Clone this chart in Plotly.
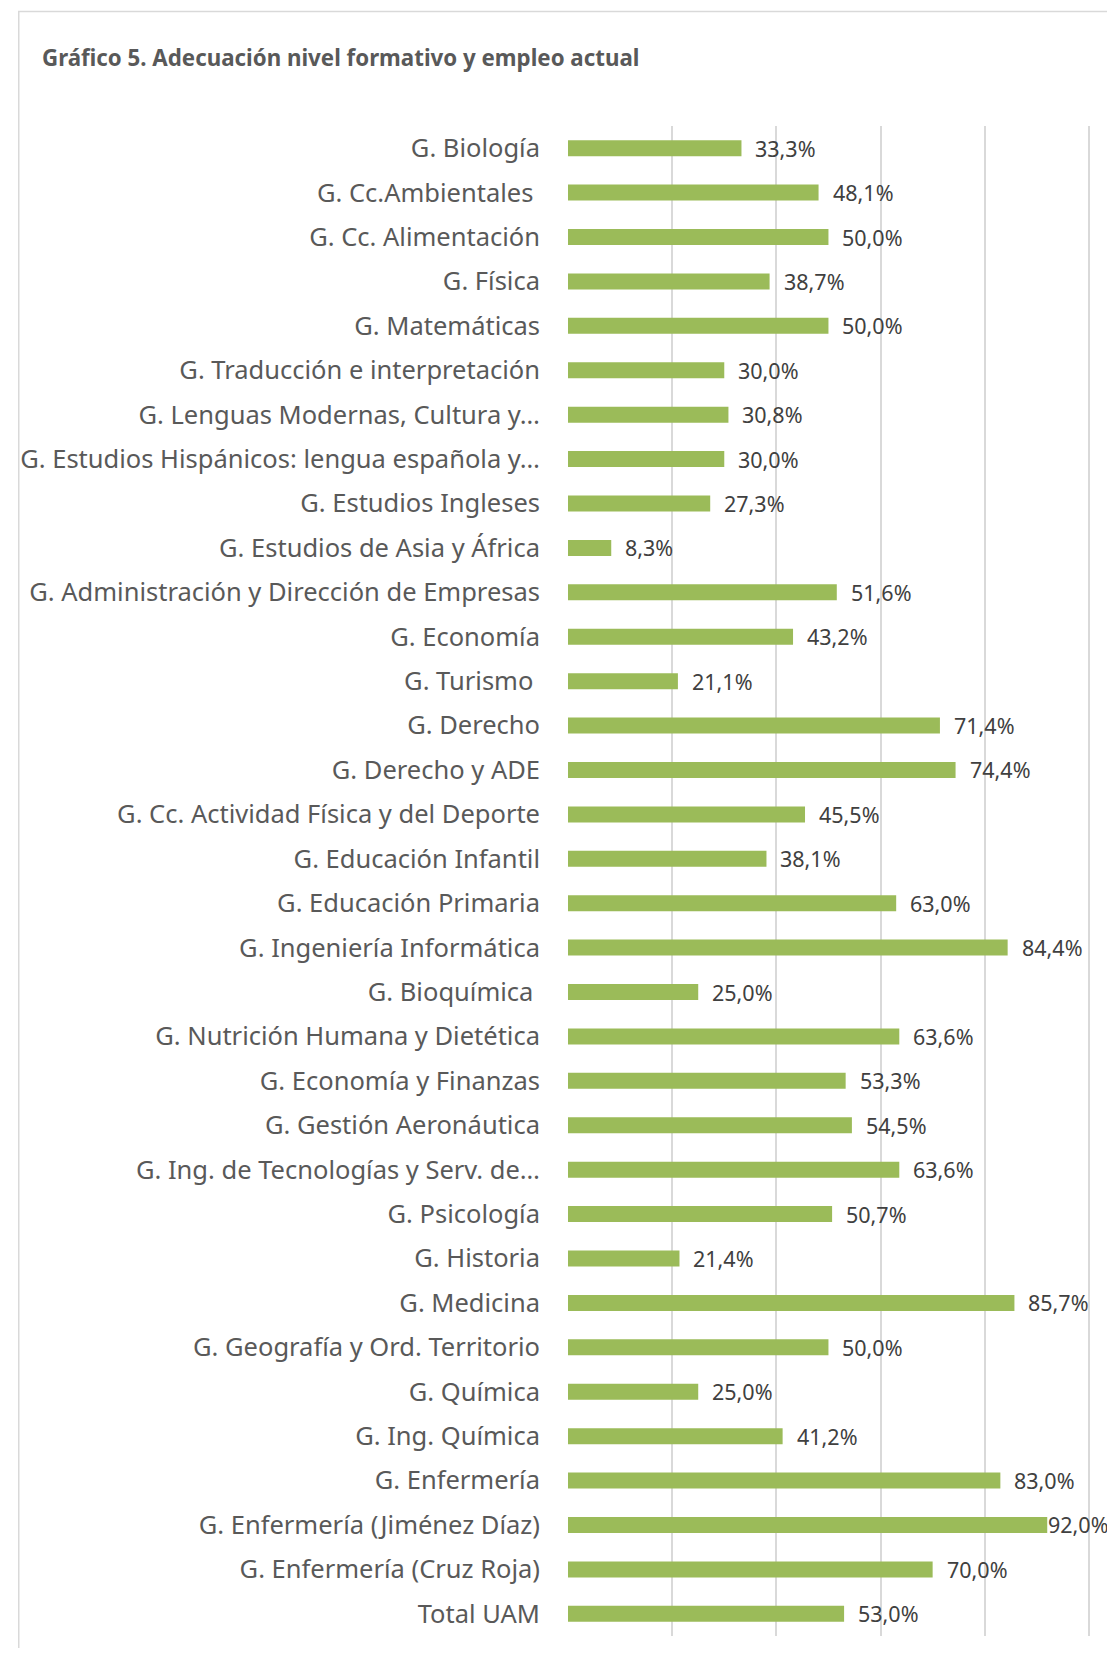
import plotly.graph_objects as go

categories = [
    "G. Biología",
    "G. Cc.Ambientales\u00a0",
    "G. Cc. Alimentación",
    "G. Física",
    "G. Matemáticas",
    "G. Traducción e interpretación",
    "G. Lenguas Modernas, Cultura y…",
    "G. Estudios Hispánicos: lengua española y…",
    "G. Estudios Ingleses",
    "G. Estudios de Asia y África",
    "G. Administración y Dirección de Empresas",
    "G. Economía",
    "G. Turismo\u00a0",
    "G. Derecho",
    "G. Derecho y ADE",
    "G. Cc. Actividad Física y del Deporte",
    "G. Educación Infantil",
    "G. Educación Primaria",
    "G. Ingeniería Informática",
    "G. Bioquímica\u00a0",
    "G. Nutrición Humana y Dietética",
    "G. Economía y Finanzas",
    "G. Gestión Aeronáutica",
    "G. Ing. de Tecnologías y Serv. de…",
    "G. Psicología",
    "G. Historia",
    "G. Medicina",
    "G. Geografía y Ord. Territorio",
    "G. Química",
    "G. Ing. Química",
    "G. Enfermería",
    "G. Enfermería (Jiménez Díaz)",
    "G. Enfermería (Cruz Roja)",
    "Total UAM",
]

values = [
    33.3, 48.1, 50.0, 38.7, 50.0, 30.0, 30.8, 30.0, 27.3, 8.3,
    51.6, 43.2, 21.1, 71.4, 74.4, 45.5, 38.1, 63.0, 84.4, 25.0,
    63.6, 53.3, 54.5, 63.6, 50.7, 21.4, 85.7, 50.0, 25.0, 41.2,
    83.0, 92.0, 70.0, 53.0,
]

x_ticks = [0, 20, 40, 60, 80, 100]

# the page body has an 8px margin, so the figure is laid out 8px smaller
W, H = 1107, 1640
L, R, T, B = 555, 24, 118, 12
plot_w = W - L - R
plot_h = H - T - B


def px_x(p):
    return (p - L) / plot_w


def px_y(p):
    return (H - B - p) / plot_h


labels = [f"{v:.1f}%".replace(".", ",") for v in values]

fig = go.Figure()
fig.add_trace(go.Bar(
    x=values,
    y=categories,
    orientation="h",
    marker=dict(color="#9BBB59", line=dict(width=0)),
    hoverinfo="x+y",
))

for v, c, t in zip(values, categories, labels):
    fig.add_annotation(
        x=v, y=c, text=t, showarrow=False,
        xanchor="left", yanchor="middle",
        xshift=-1 if v > 90 else 12,
        font=dict(family="Noto Sans", size=21.5, color="#404040"),
    )

fig.add_shape(
    type="rect", xref="paper", yref="paper",
    x0=px_x(0.5), x1=px_x(1103.5), y0=px_y(1660), y1=px_y(3.5),
    line=dict(color="#D9D9D9", width=1.5), fillcolor="rgba(0,0,0,0)",
    layer="below",
)

fig.update_layout(
    width=W, height=H,
    margin=dict(l=L, r=R, t=T, b=B),
    plot_bgcolor="white",
    paper_bgcolor="white",
    bargap=0.64,
    showlegend=False,
    title=dict(
        text="<b>Gráfico 5. Adecuación nivel formativo y empleo actual</b>",
        x=34 / W, xref="container", xanchor="left",
        y=1 - 50 / H, yref="container", yanchor="middle",
        font=dict(family="Noto Sans", size=22.3, color="#595959"),
    ),
    xaxis=dict(
        range=[0, 100.4],
        tickvals=x_ticks,
        showticklabels=False,
        showgrid=True,
        gridcolor="#D9D9D9",
        gridwidth=2,
        zeroline=False,
        fixedrange=True,
    ),
    yaxis=dict(
        type="category",
        autorange="reversed",
        showgrid=False,
        ticks="",
        ticklabelstandoff=27,
        tickfont=dict(family="Noto Sans", size=25.5, color="#595959"),
        showline=False,
    ),
)

fig.write_html("out.html")
